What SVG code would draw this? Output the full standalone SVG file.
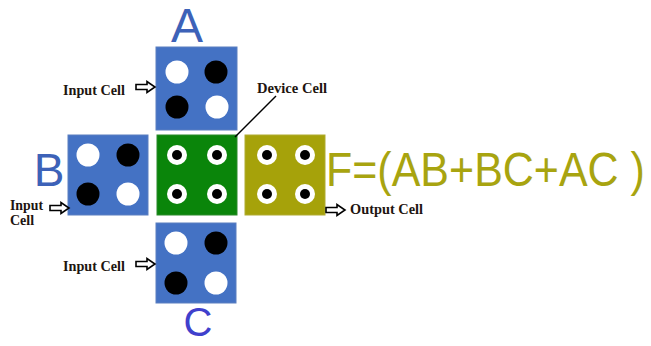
<svg xmlns="http://www.w3.org/2000/svg" width="651" height="346" viewBox="0 0 651 346">
<style>
.blue{fill:#4472c4;stroke:#5a7fc0;stroke-width:1}
.green{fill:#0a850a;stroke:#2a8a2a;stroke-width:1}
.olive{fill:#a6a20a;stroke:#b0ab30;stroke-width:1}
.w{fill:#ffffff}
.k{fill:#000000}
.lbl{font-family:"Liberation Serif",serif;font-weight:bold;font-size:14px;fill:#1e1510}
.big{font-family:"Liberation Sans",Arial,sans-serif}
.arr{fill:#ffffff;stroke:#000000;stroke-width:1.6;stroke-linejoin:miter}
</style>
<defs>
<path id="arrow" class="arr" d="M0,-2.5 H11 V-5.5 L19,0 L11,5.5 V2.5 H0 Z"/>
<g id="ring"><circle r="10" fill="#ffffff"/><circle r="5" fill="#000000"/></g>
</defs>
<g id="cellA">
<rect class="blue" x="156" y="47" width="81" height="83"/>
<circle class="w" cx="177" cy="72" r="11.5"/>
<circle class="k" cx="216" cy="72" r="11.5"/>
<circle class="k" cx="177" cy="107" r="11.5"/>
<circle class="w" cx="217" cy="107" r="11.5"/>
</g>
<g id="cellB">
<rect class="blue" x="68" y="135" width="80" height="80"/>
<circle class="w" cx="88" cy="155" r="11.5"/>
<circle class="k" cx="128" cy="155" r="11.5"/>
<circle class="k" cx="88" cy="194" r="11.5"/>
<circle class="w" cx="128" cy="194" r="11.5"/>
</g>
<g id="cellDevice">
<rect class="green" x="157" y="135" width="80" height="80"/>
<use href="#ring" x="177" y="155"/>
<use href="#ring" x="217" y="155"/>
<use href="#ring" x="177" y="194"/>
<use href="#ring" x="217" y="194"/>
</g>
<g id="cellOutput">
<rect class="olive" x="245" y="135" width="80" height="80"/>
<use href="#ring" x="267" y="155"/>
<use href="#ring" x="305" y="155"/>
<use href="#ring" x="267" y="194"/>
<use href="#ring" x="305" y="194"/>
</g>
<g id="cellC">
<rect class="blue" x="156" y="223" width="80" height="80"/>
<circle class="w" cx="176" cy="243" r="11.5"/>
<circle class="k" cx="216" cy="243" r="11.5"/>
<circle class="k" cx="176" cy="283" r="11.5"/>
<circle class="w" cx="216" cy="283" r="11.5"/>
</g>
<g id="labels">
<text class="big" x="187" y="42" font-size="48" fill="#3d62b8" text-anchor="middle">A</text>
<text class="big" x="49" y="186" font-size="46" fill="#3d62b8" text-anchor="middle">B</text>
<text class="big" x="198" y="336" font-size="40" fill="#4040cc" text-anchor="middle">C</text>
<text class="big" transform="translate(326,186) scale(1,1.12)" x="0" y="0" font-size="43" fill="#a8a410">F=(AB+BC+AC )</text>
<text class="lbl" x="63" y="95" textLength="62" lengthAdjust="spacingAndGlyphs">Input Cell</text>
<text class="lbl" x="257" y="93" textLength="70" lengthAdjust="spacingAndGlyphs">Device Cell</text>
<text class="lbl" x="10" y="210" textLength="33" lengthAdjust="spacingAndGlyphs">Input</text>
<text class="lbl" x="10" y="225">Cell</text>
<text class="lbl" x="350" y="214" textLength="73" lengthAdjust="spacingAndGlyphs">Output Cell</text>
<text class="lbl" x="63" y="271" textLength="62" lengthAdjust="spacingAndGlyphs">Input Cell</text>
</g>
<g id="connectors">
<use href="#arrow" x="136" y="87"/>
<use href="#arrow" x="50" y="208"/>
<use href="#arrow" x="326" y="210"/>
<use href="#arrow" x="136" y="264"/>
<line x1="276" y1="96" x2="235" y2="137" stroke="#000000" stroke-width="1.5"/>
</g>
</svg>
